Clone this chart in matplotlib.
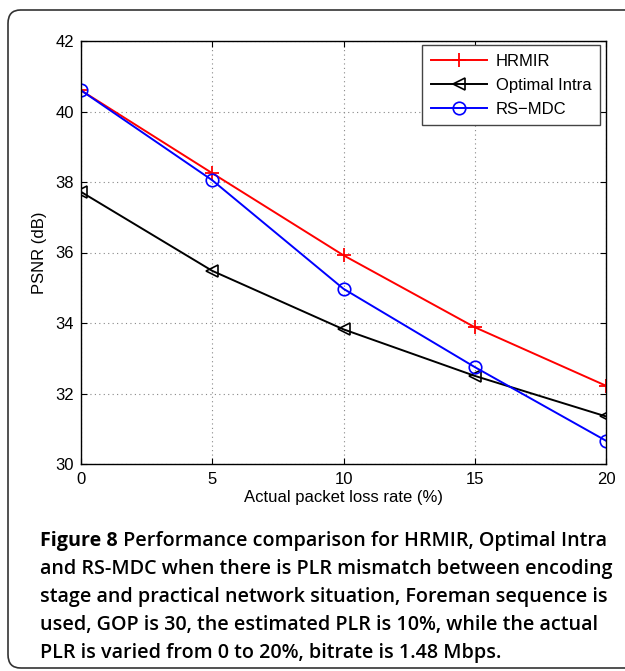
import matplotlib
matplotlib.use("Agg")
import matplotlib.pyplot as plt
from matplotlib.patches import FancyBboxPatch

plr = [0, 5, 10, 15, 20]
hrmir = [40.6, 38.25, 35.92, 33.88, 32.22]
optimal_intra = [37.72, 35.48, 33.82, 32.5, 31.35]
rs_mdc = [40.6, 38.05, 34.97, 32.75, 30.66]
series_labels = ["HRMIR", "Optimal Intra", "RS\u2212MDC"]
xticks = [0, 5, 10, 15, 20]
yticks = [30, 32, 34, 36, 38, 40, 42]
caption_bold = "Figure 8"
caption_rest = (" Performance comparison for HRMIR, Optimal Intra\n"
                "and RS-MDC when there is PLR mismatch between encoding\n"
                "stage and practical network situation, Foreman sequence is\n"
                "used, GOP is 30, the estimated PLR is 10%, while the actual\n"
                "PLR is varied from 0 to 20%, bitrate is 1.48 Mbps.")

W, H = 625, 671
fig = plt.figure(figsize=(W / 100, H / 100), dpi=100)

# rounded border
border = FancyBboxPatch((8 / W, 1 - 668 / H), (640 - 8) / W, (668 - 10) / H,
                        boxstyle="round,pad=0,rounding_size=0.02",
                        transform=fig.transFigure, fill=False,
                        edgecolor="#333333", linewidth=1.2, clip_on=False)
fig.patches.append(border)

ax = fig.add_axes([81 / W, 1 - 464 / H, (606 - 81) / W, (464 - 41) / H])
font = "Liberation Sans"
fs = 12
ax.plot(plr, hrmir, color="red", marker="+", ms=10, mew=1.3, lw=1.4,
        label=series_labels[0])
ax.plot(plr, optimal_intra, color="black", marker="<", ms=9, mfc="none",
        mew=1.2, lw=1.4, label=series_labels[1])
ax.plot(plr, rs_mdc, color="blue", marker="o", ms=9, mfc="none",
        mew=1.2, lw=1.4, label=series_labels[2])

ax.set_xlim(0, 20)
ax.set_ylim(30, 42)
ax.set_xticks(xticks)
ax.set_yticks(yticks)
ax.set_xticklabels([str(v) for v in xticks], fontfamily=font, fontsize=fs)
ax.set_yticklabels([str(v) for v in yticks], fontfamily=font, fontsize=fs)
ax.tick_params(axis="y", direction="in", length=4, right=True, pad=5)
ax.tick_params(axis="x", direction="in", length=4, top=True, pad=6)
ax.grid(True, linestyle=(0, (1, 3)), color="#888888", linewidth=0.8)
for s in ax.spines.values():
    s.set_linewidth(1.0)
ax.set_xlabel("Actual packet loss rate (%)", fontfamily=font, fontsize=fs,
              labelpad=2)
ax.set_ylabel("PSNR (dB)", fontfamily=font, fontsize=fs, labelpad=6)

leg = ax.legend(loc="upper right", bbox_to_anchor=(0.988, 0.99),
                prop={"family": font, "size": fs}, fancybox=False,
                edgecolor="#444444", framealpha=1, handlelength=3.4,
                borderpad=0.5, labelspacing=0.55, handletextpad=0.5,
                borderaxespad=0.0)
leg.get_frame().set_linewidth(1.0)

cap_font = "Open Sans"
cfs = 14.25
y0 = 541
t = fig.text(40 / W, 1 - y0 / H, caption_bold, fontfamily=cap_font,
             fontweight="bold", fontsize=cfs, va="center", ha="left")
fig.canvas.draw()
bb = t.get_window_extent()
lines = caption_rest.split("\n")
fig.text(bb.x1 / W, 1 - y0 / H, lines[0], fontfamily=cap_font,
         fontweight="semibold", fontsize=cfs, va="center", ha="left")
for i, ln in enumerate(lines[1:], start=1):
    fig.text(40 / W, 1 - (y0 + 28 * i) / H, ln, fontfamily=cap_font,
             fontweight="semibold", fontsize=cfs, va="center", ha="left")

fig.savefig("out.png", dpi=100)
